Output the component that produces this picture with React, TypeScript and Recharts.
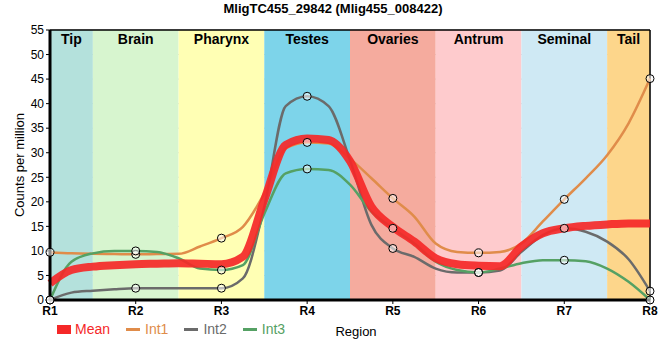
import React from 'react';
import {
  ComposedChart,
  Line,
  XAxis,
  YAxis,
  CartesianGrid,
  ReferenceArea,
  ReferenceLine,
} from 'recharts';

// x positions along the body axis (R1..R8), read at quarter steps
const positions = [1, 1.25, 1.5, 1.75, 2, 2.25, 2.5, 2.75, 3, 3.25, 3.5, 3.75, 4, 4.25, 4.5, 4.75, 5, 5.25, 5.5, 5.75, 6, 6.25, 6.5, 6.75, 7, 7.25, 7.5, 7.75, 8];

const meanValues = [3.4, 6.1, 6.8, 7.1, 7.3, 7.4, 7.5, 7.4, 7.3, 8.8, 20.4, 31.6, 32.9, 32.6, 28.3, 19, 14.9, 11.9, 8.5, 7.3, 7.0, 6.9, 10.9, 13.6, 14.6, 15.1, 15.4, 15.6, 15.6];
const int1Values = [9.7, 9.5, 9.4, 9.35, 9.3, 9.35, 9.4, 10.9, 12.6, 14.9, 21.7, 30.9, 32.1, 31.9, 28.8, 24.8, 20.7, 17, 11.5, 9.8, 9.6, 9.8, 11.5, 16, 20.5, 24.8, 29.5, 36, 45.1];
const int2Values = [0, 1.5, 1.9, 2.2, 2.4, 2.4, 2.4, 2.4, 2.4, 4.4, 19, 39.5, 41.5, 39.5, 28.5, 15.3, 10.5, 8.8, 6.4, 5.6, 5.6, 6.0, 9.8, 13.2, 14.6, 13.9, 11.9, 8.3, 1.8];
const int3Values = [0, 7.8, 9.5, 10.0, 10.0, 9.8, 8.5, 6.4, 6.1, 7.1, 17.6, 25.8, 26.7, 26.5, 23.5, 18, 14.6, 11.5, 7.8, 6.1, 5.6, 6.4, 7.5, 8.1, 8.1, 7.9, 6.4, 3.7, 0];

const regionTicks = [1, 2, 3, 4, 5, 6, 7, 8];
const regionLabels = ['R1', 'R2', 'R3', 'R4', 'R5', 'R6', 'R7', 'R8'];
const yTicks = [0, 5, 10, 15, 20, 25, 30, 35, 40, 45, 50, 55];

const bandNames = ['Tip', 'Brain', 'Pharynx', 'Testes', 'Ovaries', 'Antrum', 'Seminal', 'Tail'];
const bandStarts = [1, 1.5, 2.5, 3.5, 4.5, 5.5, 6.5, 7.5];
const bandEnds = [1.5, 2.5, 3.5, 4.5, 5.5, 6.5, 7.5, 8];
const bandColors = ['#b4e1dc', '#d7f5cf', '#ffffb4', '#7dd4ea', '#f5ab9e', '#fecbcd', '#cfe9f4', '#fdd68b'];

const MEAN = '#f52828';
const INT1 = '#e08c4a';
const INT2 = '#6b6b6b';
const INT3 = '#55a164';

const chartData = positions.map((x, i) => ({
  x,
  mean: meanValues[i],
  int1: int1Values[i],
  int2: int2Values[i],
  int3: int3Values[i],
}));

const FONT = '"Liberation Sans", Arial, sans-serif';

// markers only at the R1..R8 positions
const Marker = (props: any) => {
  const { cx, cy, payload, index } = props;
  if (!Number.isInteger(payload.x)) return <g key={`m-${index}`} />;
  return <circle key={`m-${index}`} cx={cx} cy={cy} r={4} fill="rgba(255,255,255,0.55)" stroke="#000" strokeWidth={1} />;
};

const legendItems = [
  { name: 'Mean', color: MEAN, box: true },
  { name: 'Int1', color: INT1, box: false },
  { name: 'Int2', color: INT2, box: false },
  { name: 'Int3', color: INT3, box: false },
];

export default function App() {
  return (
    <div style={{ position: 'absolute', left: 0, top: 0, width: 660, height: 360, background: '#fff', fontFamily: FONT }}>
      <div style={{ position: 'absolute', top: 1, left: 0, width: 666, textAlign: 'center', fontWeight: 'bold', fontSize: 13 }}>
        MligTC455_29842 (Mlig455_008422)
      </div>
      <ComposedChart width={660} height={360} data={chartData} margin={{ top: 30, right: 10, bottom: 15, left: 10 }}>
        {bandNames.map((name, i) => (
          <ReferenceArea
            key={name}
            x1={bandStarts[i]}
            x2={bandEnds[i]}
            y1={0}
            y2={55}
            fill={bandColors[i]}
            fillOpacity={1}
            stroke="none"
            ifOverflow="hidden"
            label={{ value: name, position: 'insideTop', fill: '#000', fontWeight: 'bold', fontSize: 14, fontFamily: FONT, offset: 4 }}
          />
        ))}
        <CartesianGrid stroke="#c8c8c8" strokeWidth={1} />
        <XAxis
          dataKey="x"
          type="number"
          domain={[1, 8]}
          ticks={regionTicks}
          height={45}
          tickFormatter={(v: number) => regionLabels[v - 1]}
          tick={{ fill: '#000', fontSize: 12, fontWeight: 'bold', fontFamily: FONT }}
          stroke="#000"
          axisLine={{ stroke: '#000', strokeWidth: 3 }}
          tickLine={{ stroke: '#000' }}
          tickSize={4}
          interval={0}
          label={{ value: 'Region', position: 'insideBottom', offset: 9, dx: 6, fill: '#000', fontSize: 13, fontFamily: FONT }}
        />
        <YAxis
          type="number"
          domain={[0, 55]}
          ticks={yTicks}
          width={40}
          tick={{ fill: '#000', fontSize: 12, fontFamily: FONT }}
          axisLine={{ stroke: '#000', strokeWidth: 3 }}
          tickLine={{ stroke: '#000' }}
          tickSize={4}
          interval={0}
          label={{ value: 'Counts per million', angle: -90, position: 'insideLeft', offset: 9, dy: 0, fill: '#000', fontSize: 13, fontFamily: FONT, style: { textAnchor: 'middle' } }}
        />
        <ReferenceLine y={55} stroke="#000" strokeWidth={1.5} />
        <ReferenceLine x={8} stroke="#000" strokeWidth={1.5} />
        <Line type="monotone" dataKey="int1" stroke={INT1} strokeWidth={2.5} dot={false} isAnimationActive={false} />
        <Line type="monotone" dataKey="int2" stroke={INT2} strokeWidth={2.5} dot={false} isAnimationActive={false} />
        <Line type="monotone" dataKey="int3" stroke={INT3} strokeWidth={2.5} dot={false} isAnimationActive={false} />
        <Line type="monotone" dataKey="mean" stroke={MEAN} strokeOpacity={0.92} strokeWidth={8} dot={false} isAnimationActive={false} />
        <Line dataKey="int1" stroke="none" dot={Marker} activeDot={false} isAnimationActive={false} />
        <Line dataKey="int2" stroke="none" dot={Marker} activeDot={false} isAnimationActive={false} />
        <Line dataKey="int3" stroke="none" dot={Marker} activeDot={false} isAnimationActive={false} />
      </ComposedChart>
      <div style={{ position: 'absolute', top: 321, left: 57, display: 'flex', alignItems: 'center', fontSize: 14 }}>
        {legendItems.map((it) => (
          <div key={it.name} style={{ display: 'flex', alignItems: 'center', marginRight: 16, color: it.color }}>
            {it.box ? (
              <span style={{ display: 'inline-block', width: 14, height: 9, background: it.color, marginRight: 4 }} />
            ) : (
              <span style={{ display: 'inline-block', width: 14, height: 3, background: it.color, marginRight: 5 }} />
            )}
            <span>{it.name}</span>
          </div>
        ))}
      </div>
    </div>
  );
}
